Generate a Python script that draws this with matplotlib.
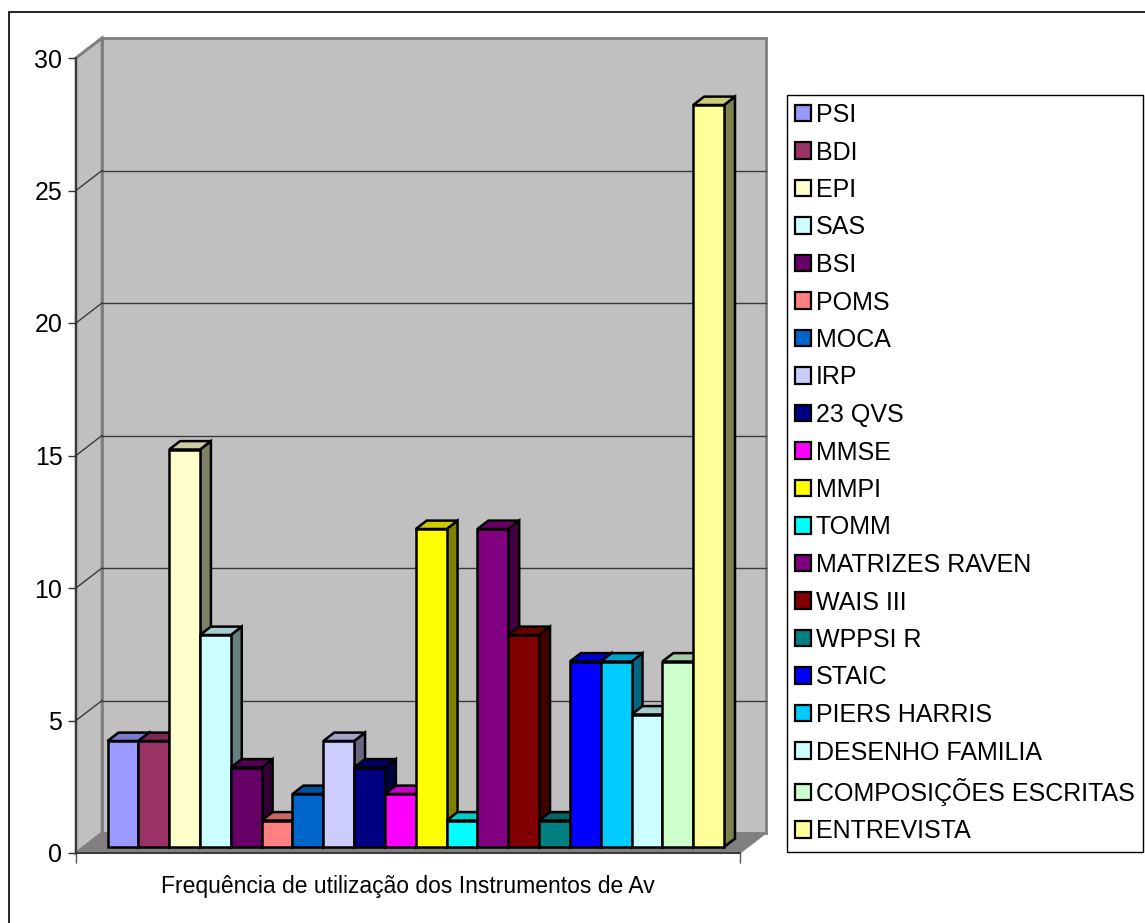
import matplotlib
matplotlib.use("Agg")
import matplotlib.pyplot as plt
from matplotlib.patches import Polygon, Rectangle, Patch
from matplotlib.colors import to_rgb
import numpy as np

plt.rcParams['font.family'] = ['Liberation Sans', 'DejaVu Sans']

# ---- data -------------------------------------------------------------
instruments = ["PSI", "BDI", "EPI", "SAS", "BSI", "POMS", "MOCA", "IRP",
               "23 QVS", "MMSE", "MMPI", "TOMM", "MATRIZES RAVEN", "WAIS III",
               "WPPSI R", "STAIC", "PIERS HARRIS", "DESENHO FAMILIA",
               "COMPOSIÇÕES ESCRITAS", "ENTREVISTA"]
frequencies = [4, 4, 15, 8, 3, 1, 2, 4, 3, 2, 12, 1, 12, 8, 1, 7, 7, 5, 7, 28]
bar_colors = ["#9999FF", "#993366", "#FFFFCC", "#CCFFFF", "#660066", "#FF8080",
              "#0066CC", "#CCCCFF", "#000080", "#FF00FF", "#FFFF00", "#00FFFF",
              "#800080", "#800000", "#008080", "#0000FF", "#00CCFF", "#CCFFFF",
              "#CCFFCC", "#FFFF99"]
y_ticks = [0, 5, 10, 15, 20, 25, 30]
x_title = "Frequência de utilização dos Instrumentos de Av"

# ---- figure / layout --------------------------------------------------
W, H, DPI = 1145, 923, 100
fig = plt.figure(figsize=(W / DPI, H / DPI), dpi=DPI)
fig.patch.set_facecolor("white")

# outer chart-area frame
fig.patches.append(Rectangle((8.5 / W, -0.05), 1.2, 1 - 11.5 / H + 0.05,
                             transform=fig.transFigure, fill=False,
                             edgecolor="black", linewidth=1.2, zorder=0))

ax_l, ax_r, ax_t, ax_b = 76, 740, 58, 853
ax = fig.add_axes([ax_l / W, 1 - ax_b / H, (ax_r - ax_l) / W, (ax_b - ax_t) / H])
ax.set_facecolor("none")

n = len(frequencies)
gap = 0.77
xmax = n + 2 * gap
ymax = 30
ax.set_xlim(0, xmax)
ax.set_ylim(0, ymax)

# depth vector of the 3-D box, in data units
px_x = (ax_r - ax_l) / xmax
px_y = (ax_b - ax_t) / ymax
DX, DY = 26 / px_x, 20 / px_y

wall = "#C0C0C0"
edge_gray = "#808080"

# back wall
ax.add_patch(Polygon([(DX, DY), (xmax + DX, DY), (xmax + DX, ymax + DY), (DX, ymax + DY)],
                     closed=True, facecolor=wall, edgecolor=edge_gray, lw=2,
                     clip_on=False, zorder=0.5))
# side wall
ax.add_patch(Polygon([(0, 0), (DX, DY), (DX, ymax + DY), (0, ymax)],
                     closed=True, facecolor=wall, edgecolor=edge_gray, lw=2,
                     clip_on=False, zorder=0.6))
# floor
ax.add_patch(Polygon([(0, 0), (xmax, 0), (xmax + DX, DY), (DX, DY)],
                     closed=True, facecolor="#808080", edgecolor="#808080", lw=1,
                     clip_on=False, zorder=0.7))

# gridlines on the back and side walls
for v in y_ticks[1:]:
    if v < ymax:
        ax.plot([DX, xmax + DX], [v + DY, v + DY], color="#3a3a3a", lw=1.0,
                clip_on=False, zorder=1)
    ax.plot([0, DX], [v, v + DY], color="#3a3a3a" if v < ymax else edge_gray,
            lw=1.0 if v < ymax else 2, clip_on=False, zorder=1)

# ---- 3-D columns -------------------------------------------------------
f0, f1 = 0.30, 0.72
ddx, ddy = (f1 - f0) * DX, (f1 - f0) * DY
base = f0 * DY
handles = []
for i, (v, c) in enumerate(zip(frequencies, bar_colors)):
    rgb = np.array(to_rgb(c))
    x0 = gap + f0 * DX + i
    x1 = x0 + 1
    z = 3 + i * 0.01
    kw = dict(closed=True, edgecolor="black", lw=1.8, joinstyle="miter",
              clip_on=False, zorder=z)
    ax.add_patch(Polygon([(x1, base), (x1 + ddx, base + ddy),
                          (x1 + ddx, base + v + ddy), (x1, base + v)],
                         facecolor=rgb * 0.5, **kw))
    ax.add_patch(Polygon([(x0, base + v), (x1, base + v),
                          (x1 + ddx, base + v + ddy), (x0 + ddx, base + v + ddy)],
                         facecolor=rgb * 0.8, **kw))
    ax.add_patch(Polygon([(x0, base), (x1, base), (x1, base + v), (x0, base + v)],
                         facecolor=rgb, **kw))
    handles.append(Patch(facecolor=c, edgecolor="black", lw=1.6, label=instruments[i]))

# ---- axes ----------------------------------------------------------------
for s in ("top", "right"):
    ax.spines[s].set_visible(False)
ax.spines["left"].set_color("#333333")
ax.spines["left"].set_linewidth(1.3)
ax.spines["bottom"].set_color("#333333")
ax.spines["bottom"].set_linewidth(1.3)
ax.spines["left"].set_zorder(2)
ax.spines["bottom"].set_zorder(2)

ax.set_yticks(y_ticks)
ax.set_yticklabels([str(t) for t in y_ticks], fontsize=18)
ax.tick_params(axis="y", direction="out", length=5.8, width=1.0, color="#333333", pad=4)
ax.set_xticks([0, xmax])
ax.set_xticklabels(["", ""])
ax.tick_params(axis="x", direction="out", length=7.2, width=1.0, color="#555555", pad=0)
ax.set_xlabel(x_title, fontsize=16.5, labelpad=9)

# ---- legend --------------------------------------------------------------
leg = fig.legend(handles=handles, loc="upper left",
                 bbox_to_anchor=(787 / W, 1 - 95 / H), bbox_transform=fig.transFigure,
                 fontsize=18, frameon=True, fancybox=False, shadow=False,
                 edgecolor="black", framealpha=1, borderaxespad=0,
                 handlelength=0.64, handleheight=0.64, handletextpad=0.2,
                 labelspacing=0.54, borderpad=0.32)
leg.get_frame().set_linewidth(1.0)

fig.savefig("out.png", dpi=DPI)
